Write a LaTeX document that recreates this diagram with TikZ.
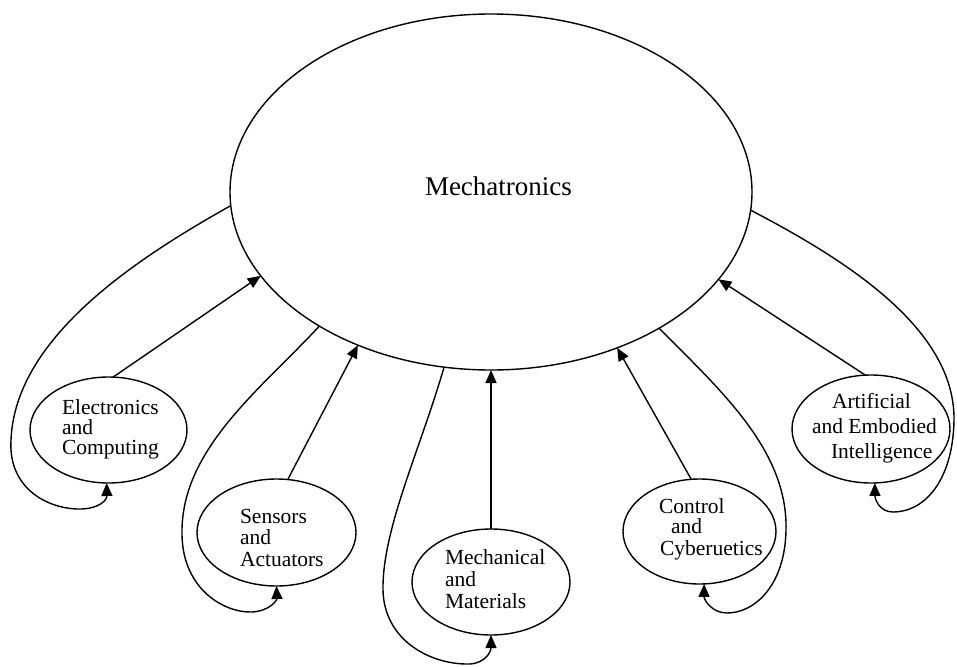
\documentclass[tikz,border=0pt]{standalone}
\usepackage{fontspec}
\setmainfont{Liberation Serif}
\usetikzlibrary{shapes.geometric,arrows.meta}
\begin{document}
\begin{tikzpicture}[x=1pt,y=-1pt,
  every node/.style={inner sep=0pt, outer sep=0pt},
  area/.style={draw, ellipse, line width=1.4pt},
  lbl/.style={anchor=base west, font=\fontsize{21.5}{21.5}\selectfont},
  feed/.style={draw, line width=1.4pt, -{Triangle[length=13pt,width=11pt]}},
  loopback/.style={draw, line width=1.4pt, -{Triangle[length=13pt,width=11pt]}}
]
% canvas
\fill[white] (0,0) rectangle (957,666);

% central field
\node[area, minimum width=522pt, minimum height=356pt] (hub) at (491,192) {};
\node[anchor=base west, font=\fontsize{27}{27}\selectfont] (hubtxt) at (425,195) {Mechatronics};

% contributing disciplines
\node[area, minimum width=157pt, minimum height=106pt] (elec) at (108.5,430) {};
\node[lbl] (elec1) at (62,414) {Electronics};
\node[lbl] (elec2) at (62,434) {and};
\node[lbl] (elec3) at (62,454) {Computing};

\node[area, minimum width=159pt, minimum height=107pt] (sens) at (276.5,532.5) {};
\node[lbl] (sens1) at (240,523) {Sensors};
\node[lbl] (sens2) at (240,544) {and};
\node[lbl] (sens3) at (240,566) {Actuators};

\node[area, minimum width=158pt, minimum height=106pt] (matl) at (491,582) {};
\node[lbl] (matl1) at (445,564) {Mechanical};
\node[lbl] (matl2) at (445,586) {and};
\node[lbl] (matl3) at (445,608) {Materials};

\node[area, minimum width=153pt, minimum height=105pt] (ctrl) at (699.5,531.5) {};
\node[lbl] (ctrl1) at (659,513) {Control};
\node[lbl] (ctrl2) at (671,533) {and};
\node[lbl] (ctrl3) at (660,555) {Cyberuetics};

\node[area, minimum width=158pt, minimum height=108pt] (arti) at (871,429) {};
\node[lbl] (arti1) at (832,408) {Artificial};
\node[lbl] (arti2) at (812,433) {and Embodied};
\node[lbl] (arti3) at (831,458) {Intelligence};

% upward contributions
\draw[feed] (elec.85) -- (hub.200.7);
\draw[feed] (sens.78) -- (hub.229.9);
\draw[feed] (matl.north) -- (hub.south);
\draw[feed] (ctrl.99) -- (hub.309.9);
\draw[feed] (arti.96) -- (hub.339.2);

% feedback loops back into each discipline
\draw[loopback] (hub.183.3) .. controls (130,262) and (15,340) .. (11,440)
  .. controls (8,490) and (50,510) .. (82,509)
  .. controls (100,508) and (107,500) .. (elec.268);
\draw[loopback] (hub.218.3) .. controls (260,390) and (180,450) .. (182,535)
  .. controls (183,590) and (225,613) .. (252,612)
  .. controls (270,611) and (277,600) .. (sens.270);
\draw[loopback] (hub.255) .. controls (420,450) and (382,530) .. (383,590)
  .. controls (384,640) and (430,665) .. (470,664)
  .. controls (485,663) and (491,652) .. (matl.270);
\draw[loopback] (hub.321.2) .. controls (720,390) and (788,450) .. (786,530)
  .. controls (785,585) and (755,613) .. (727,613)
  .. controls (712,613) and (704,600) .. (ctrl.275);
\draw[loopback] (hub.356.7) .. controls (850,262) and (955,330) .. (954,420)
  .. controls (953,480) and (925,512) .. (893,512)
  .. controls (880,512) and (875,500) .. (arti.274);
\end{tikzpicture}
\end{document}
